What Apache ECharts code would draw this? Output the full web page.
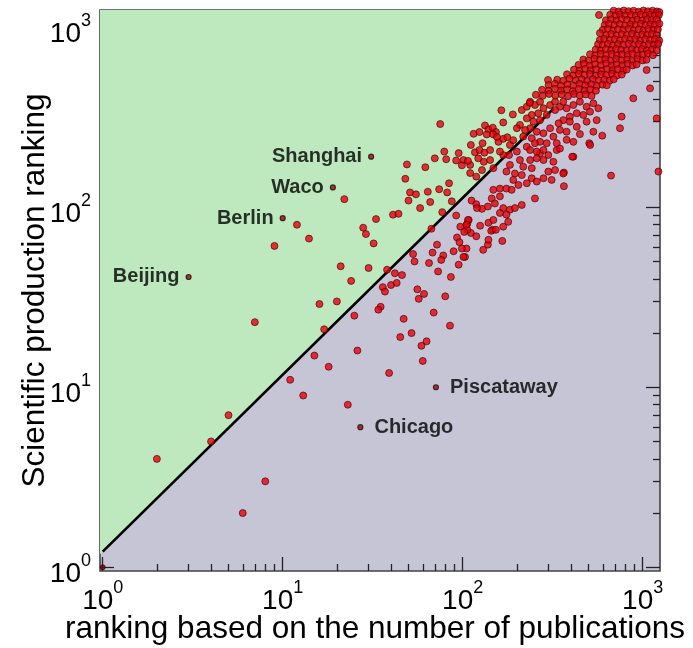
<!DOCTYPE html>
<html><head><meta charset="utf-8">
<script src="https://cdn.jsdelivr.net/npm/echarts@6/dist/echarts.min.js"></script>
<style>html,body{margin:0;padding:0;background:#fff}#c{width:693px;height:648px}</style>
</head><body><div id="c"></div>
<script>
// axis ranges (log scale, ranks)
const xMin = 0.966, xMax = 1248, yMin = 0.953, yMax = 1248;
const majorTicks = [1, 10, 100, 1000];
const minorTicks = [2,3,4,5,6,7,8,9,20,30,40,50,60,70,80,90,200,300,400,500,600,700,800,900];
const xTitle = 'ranking based on the number of publications';
const yTitle = 'Scientific production ranking';

// labelled cities
const cityNames = ['Beijing', 'Berlin', 'Waco', 'Shanghai', 'Piscataway', 'Chicago'];
const cityX = [3, 10, 19, 31, 71, 27];
const cityY = [41, 87, 129, 191, 10, 6];
const cityLabelSide = ['left', 'left', 'left', 'left', 'right', 'right'];
const firstPoint = [[1, 1]];

// fitted diagonal and the green region above it
const fitLine = [[1, 1.22], [320, 354]];
const greenRegion = [[0.966, 1.18], [0.966, 1248], [1152, 1248]];

// scattered points [publication rank, production rank]
const sparsePoints = [[2,4],[8,3],[6,2],[7,23],[16,29],[20,30],[17,21],[15,15],[18,13],[11,11],[13,9],[5,7],[4,5],
[22,111],[12,80],[14,67],[9,61],[33,86],[28,77],[29,71],[32,63],[21,47],[30,46],[24,39],[38,45],[42,43],[46,42],
[41,91],[44,92],[67,76],[58,99],[48,144],[49,173],[62,167],[51,121],[55,118],[50,109],[64,122],[66,107],[74,126],
[84,136],[82,121],[87,108],[70,187],[79,204],[81,185],[95,200],[92,182],[101,183],[110,172],[99,171],[77,94],[92,90],
[112,109],[119,104],[128,98],[53,55],[54,50],[65,49],[68,56],[72,62],[78,54],[89,57],[95,48],[73,44],[86,41],[103,53],
[105,59],[97,78],[111,72],[106,75],[119,69],[125,79],[130,58],[138,62],[139,82],[147,75],[138,101],[179,83],[102,73],
[144,74],[153,75],[93,68],[96,64],[139,66],[166,65],[99,59],[76,51],[101,53],[80,32],[85,22],[25,25],[35,28],[34,27],
[36,36],[37,34],[40,37],[43,38],[56,35],[61,33],[57,31],[69,26],[47,24],[52,20],[45,19],[63,18],[59,17],[26,16],[60,14],
[39,12],[23,8],[75,290],[106,81],[108,85]];

const bandPoints = [[213,347],[227,362],[237,386],[252,370],[269,386],[281,355],[263,333],[242,326],[227,312],[247,299],
[269,305],[293,326],[306,370],[326,386],[347,362],[326,347],[362,386],[378,355],[412,370],[448,386],[488,362],[532,378],
[567,355],[510,340],[468,326],[430,333],[394,319],[362,305],[341,293],[394,299],[347,269],[306,275],[281,258],[258,263],
[237,275],[222,269],[208,287],[200,275],[217,247],[242,242],[269,231],[252,227],[293,227],[333,227],[378,237],[412,231],
[448,255],[505,227],[532,263],[555,305],[488,299],[430,280],[378,263],[319,247],[299,195],[269,199],[281,208],[258,204],
[333,208],[347,212],[319,179],[281,183],[258,187],[412,191],[365,156],[365,131],[227,217],[237,208],
[164,346],[190,328],[168,296],[133,285],[115,256],[124,262],[139,271],[147,277],[153,262],[136,254],[148,254],[111,222],
[129,227],[117,202],[124,208],[132,201],[142,208],[107,181],[122,187],[131,179],[142,183],[110,155],[119,148],[128,161],
[148,165],[158,231],[168,240],[177,245],[155,246],[183,222],[191,236],[181,195],[168,195],[161,204],[200,204],
[208,183],[237,183],[217,168],[183,172],[175,158],[195,154],[213,151],[242,165],[191,142],[204,133],[227,136],[242,145],
[258,139],[281,145],[299,158],[326,161],[362,154],[312,142],[148,125],[161,127],[175,127],[187,125],[145,112],[161,115],
[151,105],[168,99],[183,97],[195,99],[213,103],[252,112],[161,93],[175,91],[120,99],[107,85],[148,85],[168,78],[105,80],
[298,510],[236,380]];

const clusterPoints = [[690,1238],[735,1225],[785,1240],[835,1230],[890,1236],[950,1222],[1010,1240],[1070,1228],[1135,1238],[1200,1226],[1240,1215],
[572,1171],[660,1175],[705,1160],[750,1180],[800,1165],[860,1172],[915,1158],[975,1178],[1040,1162],[1100,1175],[1165,1160],[1230,1170],
[625,1095],[668,1108],[715,1090],[765,1112],[820,1098],[875,1085],[935,1105],[995,1092],[1060,1110],[1125,1096],[1195,1104],
[615,1030],[650,1045],[698,1028],[745,1040],[800,1022],[855,1038],[915,1030],[975,1046],[1040,1025],[1105,1040],[1170,1032],[1238,1048],
[600,968],[640,978],[685,960],[730,975],[780,965],[835,982],[890,962],[950,974],[1010,958],[1075,980],[1145,966],[1215,975],
[579,929],[628,905],[670,918],[718,900],[765,915],[818,905],[872,920],[930,898],[995,912],[1060,904],[1125,918],[1195,902],
[578,850],[612,862],[655,848],[700,858],[748,845],[798,862],[852,850],[910,858],[970,842],[1035,860],[1100,848],[1170,858],[1236,845],
[565,805],[600,795],[640,808],[685,792],[730,806],[780,798],[835,810],[890,795],[950,805],[1015,790],[1080,806],[1150,796],[1220,808],
[548,752],[585,742],[625,756],[668,745],[712,758],[760,748],[815,740],[870,755],[930,746],[990,758],[1055,744],[1125,752],[1195,742],
[510,708],[545,698],[585,712],[628,700],[672,710],[718,696],[770,708],[825,702],[880,712],[940,698],[1005,706],[1070,715],[1140,700],
[468,662],[500,652],[540,668],[580,656],[620,664],[665,650],[712,666],[765,655],[820,662],[875,650],[935,665],[1000,655],[1050,660],
[440,618],[472,626],[508,612],[545,624],[585,615],[628,628],[672,612],[720,622],[770,615],[825,626],[880,614],[925,622],
[415,582],[446,574],[480,588],[515,576],[552,584],[592,572],[635,586],[680,578],[728,585],[780,575],[815,582],
[380,548],[410,540],[442,552],[475,542],[510,550],[548,538],[588,548],[630,542],[675,552],[720,540],[765,546],
[335,512],[362,505],[392,518],[425,506],[458,514],[492,502],[530,515],[570,508],[612,512],[655,505],[690,514],
[300,478],[325,485],[352,472],[382,482],[412,474],[445,486],[480,476],[518,482],[556,472],[598,480],[632,476],
[276,450],[300,444],[326,455],[352,446],[380,452],[410,442],[442,454],[476,446],[512,452],[550,444],
[255,422],[278,416],[302,426],[327,418],[355,424],[385,414],[415,426],[447,418],[482,424],[520,416]];

const outlierPoints = [[887,403],[764,319],[748,275],[1196,312],[1223,158],[667,150],[596,250],[511,222],[406,191],[1099,458],[1052,579]];

const FONT = 'Liberation Sans';
function supLabel(margin, padding) {
  return {
    show: true, customValues: majorTicks, margin: margin, padding: padding,
    formatter: v => '{b|10}{s|' + Math.round(Math.log10(v)) + '}',
    rich: {
      b: {fontSize: 28, fontFamily: FONT, color: '#000', lineHeight: 44},
      s: {fontSize: 18, fontFamily: FONT, color: '#000', lineHeight: 18, verticalAlign: 'top'}
    }
  };
}
function axis(kind, position, ticks, len, label, extra) {
  const a = {
    type: 'log', logBase: 10, position: position,
    min: kind === 'x' ? xMin : yMin, max: kind === 'x' ? xMax : yMax,
    axisLine: {show: false}, splitLine: {show: false},
    axisTick: {show: true, inside: true, length: len, customValues: ticks, lineStyle: {color: '#222', width: 1.3}},
    axisLabel: label || {show: false}
  };
  return Object.assign(a, extra || {});
}
const titleStyle = {fontSize: 31.5, fontFamily: FONT, color: '#000'};
const xAxes = [
  axis('x', 'bottom', majorTicks, 14, supLabel(8, [0, 0, 0, 0]),
    {name: xTitle, nameLocation: 'middle', nameGap: 42, nameMoveOverlap: false,
     nameTextStyle: Object.assign({padding: [0, 10, 0, 0]}, titleStyle)}),
  axis('x', 'bottom', minorTicks, 7, null),
  axis('x', 'top', majorTicks, 14, null),
  axis('x', 'top', minorTicks, 7, null)
];
const yAxes = [
  axis('y', 'left', majorTicks, 14, supLabel(9, [14, 0, 0, 0]),
    {name: yTitle, nameLocation: 'middle', nameGap: 49, nameMoveOverlap: false, nameTextStyle: titleStyle}),
  axis('y', 'left', minorTicks, 7, null),
  axis('y', 'right', majorTicks, 14, null),
  axis('y', 'right', minorTicks, 7, null)
];

const dotStyle = {color: '#e8000a', borderColor: '#3a0000', borderWidth: 0.8};
const allPoints = sparsePoints.concat(bandPoints, clusterPoints, outlierPoints);

const chart = echarts.init(document.getElementById('c'), null, {renderer: 'canvas'});
chart.setOption({
  animation: false,
  grid: {left: 100, right: 33, top: 10, bottom: 77, containLabel: false, outerBoundsMode: 'none',
    show: true, backgroundColor: '#c5c5d6', borderColor: '#444', borderWidth: 1.6},
  xAxis: xAxes,
  yAxis: yAxes,
  series: [
    {
      type: 'custom', z: 1, silent: true, clip: true, data: greenRegion,
      renderItem: function (params, api) {
        if (params.dataIndex !== 0) return;
        const pts = greenRegion.map(p => api.coord(p));
        return {type: 'polygon', shape: {points: pts}, style: {fill: '#bee8be'}};
      }
    },
    {
      type: 'line', z: 2, data: fitLine, showSymbol: false, silent: true,
      lineStyle: {color: '#000', width: 2.6}
    },
    {
      type: 'scatter', z: 3, data: allPoints, symbolSize: 7, clip: false, itemStyle: dotStyle
    },
    {
      type: 'scatter', z: 4, clip: false, data: firstPoint, symbolSize: 5,
      itemStyle: {color: '#8a0000', borderColor: '#111', borderWidth: 1}
    },
    {
      type: 'scatter', z: 4, clip: false, symbolSize: 5,
      itemStyle: {color: '#b00000', borderColor: '#111', borderWidth: 1.2},
      data: cityNames.map((n, i) => ({
        name: n, value: [cityX[i], cityY[i]],
        label: {show: true, position: cityLabelSide[i], distance: cityLabelSide[i] === 'left' ? 6 : 11,
          formatter: '{b}', fontSize: 20, fontWeight: 'bold', fontFamily: FONT, color: '#000'}
      }))
    }
  ]
});
</script>
</body></html>
